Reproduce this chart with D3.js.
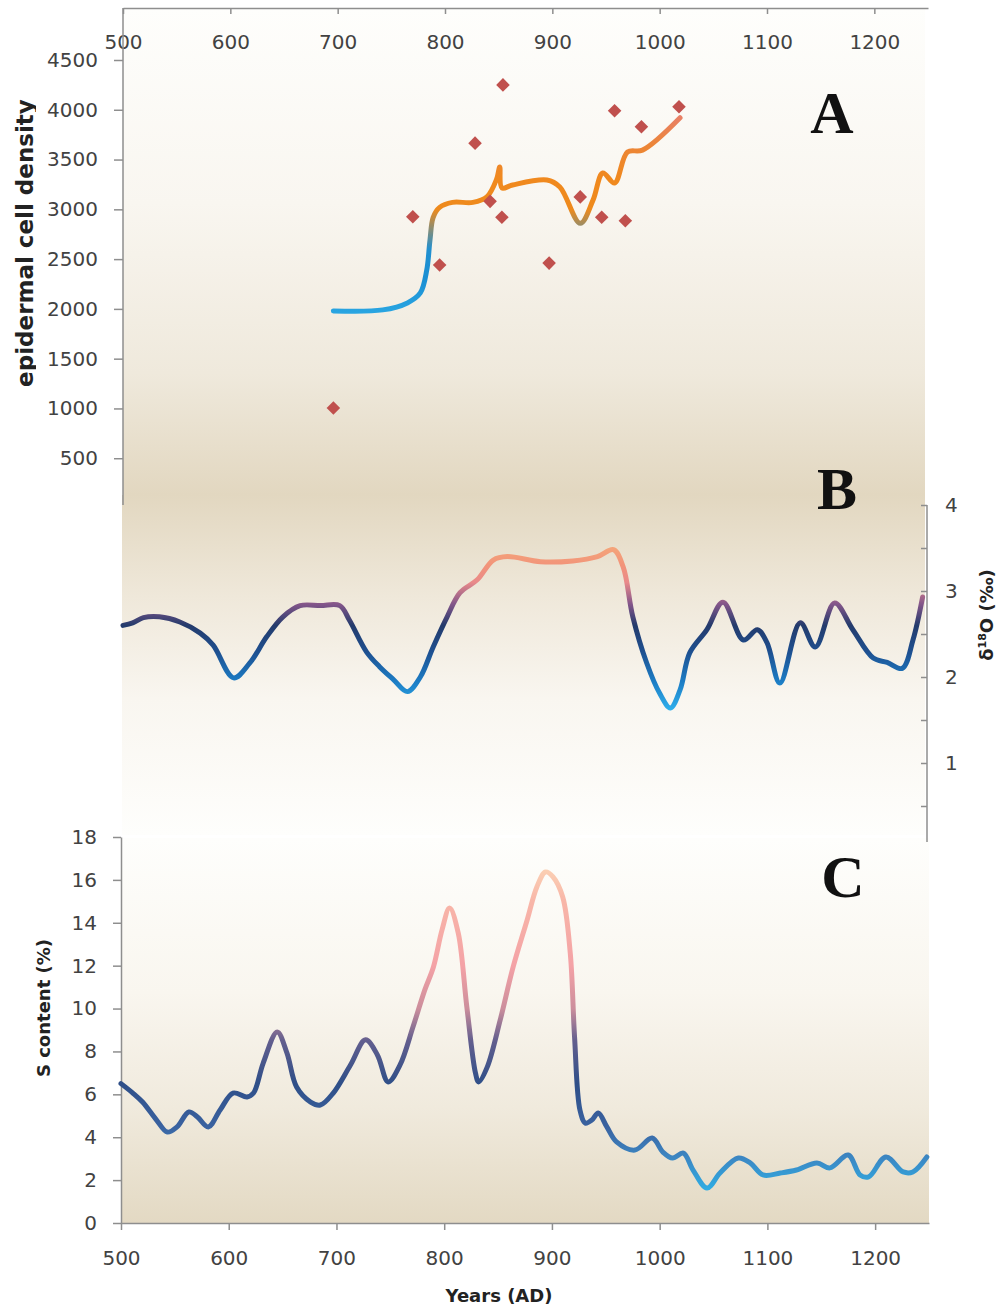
<!DOCTYPE html>
<html>
<head>
<meta charset="utf-8">
<script src="https://cdn.jsdelivr.net/npm/d3@7"></script>
<style>
  html, body { margin: 0; padding: 0; background: #fff; }
  svg { display: block; }
  .axis .tick text { font-family: "DejaVu Sans", sans-serif; font-size: 20px; fill: #424242; }
  .axis line, .axis path { stroke: #8e8e8e; stroke-width: 1.5px; }
  .axis-title { font-family: "DejaVu Sans", sans-serif; font-weight: bold; fill: #222; }
  .panel-letter { font-family: "Liberation Serif", "Times New Roman", serif; font-weight: bold; font-size: 60px; fill: #111; }
</style>
</head>
<body>
<svg id="chart" width="997" height="1308"></svg>
<script>
// ============================================
// Data
// ============================================

const yearTicks = [500, 600, 700, 800, 900, 1000, 1100, 1200];
const densityTicks = [500, 1000, 1500, 2000, 2500, 3000, 3500, 4000, 4500];
const o18Ticks = [0.5, 1, 1.5, 2, 2.5, 3, 3.5, 4];
const sulfurTicks = [0, 2, 4, 6, 8, 10, 12, 14, 16, 18];

// Panel A: epidermal cell density samples (diamonds)
const densityYears = [696, 770, 795, 828, 842, 853, 854, 897, 926, 946, 958, 968, 983, 1018];
const densityValues = [1005, 2925, 2440, 3665, 3080, 2920, 4250, 2460, 3125, 2920, 3990, 2885, 3830, 4030];

// Panel A: smoothed fit through the density samples
const fitYears = [696, 742, 765, 777, 783, 786, 789, 795, 807, 826, 839, 848, 851, 853, 863, 895, 907, 926, 938, 947, 958, 970, 984, 1019];
const fitValues = [1980, 1990, 2060, 2160, 2390, 2690, 2920, 3020, 3070, 3070, 3125, 3300, 3425, 3215, 3245, 3295, 3225, 2860, 3095, 3365, 3265, 3575, 3595, 3920];

// Panel B: d18O (permil)
const o18Years = [500, 509, 519, 534, 553, 572, 584, 603, 618, 634, 649, 665, 684, 702, 711, 727, 739, 752, 765, 777, 789, 802, 814, 830, 845, 858, 889, 919, 942, 957, 966, 975, 988, 1000, 1010, 1019, 1028, 1044, 1059, 1078, 1091, 1100, 1112, 1131, 1145, 1163, 1180, 1199, 1212, 1226, 1236, 1245];
const o18Values = [2.60, 2.63, 2.69, 2.70, 2.64, 2.51, 2.37, 1.99, 2.16, 2.47, 2.70, 2.83, 2.83, 2.83, 2.66, 2.29, 2.12, 1.97, 1.83, 2.00, 2.35, 2.70, 2.98, 3.13, 3.36, 3.40, 3.34, 3.35, 3.40, 3.48, 3.28, 2.70, 2.16, 1.81, 1.64, 1.85, 2.28, 2.55, 2.87, 2.43, 2.55, 2.40, 1.93, 2.63, 2.35, 2.86, 2.55, 2.22, 2.17, 2.10, 2.43, 2.93];

// Panel C: S content (%)
const sulfurYears = [500, 511, 520, 533, 543, 552, 563, 571, 581, 592, 604, 617, 623, 632, 645, 654, 663, 676, 685, 697, 713, 727, 738, 748, 759, 771, 782, 790, 798, 805, 813, 821, 829, 832, 840, 852, 864, 877, 886, 894, 901, 910, 917, 921, 926, 931, 937, 943, 951, 960, 977, 993, 1003, 1012, 1022, 1031, 1044, 1056, 1073, 1084, 1096, 1112, 1127, 1146, 1158, 1175, 1186, 1194, 1210, 1226, 1235, 1248];
const sulfurValues = [6.5, 6.06, 5.64, 4.80, 4.24, 4.48, 5.18, 4.94, 4.48, 5.27, 6.06, 5.88, 6.06, 7.46, 8.91, 7.93, 6.34, 5.64, 5.50, 6.06, 7.37, 8.54, 7.84, 6.58, 7.37, 9.14, 10.87, 11.94, 13.67, 14.69, 13.53, 10.08, 7.00, 6.58, 7.28, 9.47, 11.94, 14.13, 15.67, 16.37, 16.14, 15.20, 12.59, 8.68, 5.27, 4.66, 4.80, 5.13, 4.48, 3.78, 3.40, 3.96, 3.31, 3.03, 3.26, 2.47, 1.63, 2.33, 3.03, 2.80, 2.24, 2.33, 2.47, 2.80, 2.57, 3.17, 2.24, 2.15, 3.08, 2.38, 2.38, 3.08];

// ============================================
// Colour stops for the value-coloured lines
// ============================================

const fitStops = [[3950, '#e8806a'], [3650, '#ec8538'], [3300, '#f0891e'], [3000, '#ee8a1c'], [2600, '#2190d0'], [2300, '#1a8fd3'], [1950, '#2aa6e2']];
const o18Stops = [[3.5, '#f4a47a'], [3.3, '#f2947a'], [3.1, '#e98a8a'], [2.85, '#84568a'], [2.6, '#243b6c'], [2.3, '#1e4f8f'], [1.95, '#1c7cc4'], [1.6, '#30b2ee']];
const sulfurStops = [[16.5, '#fbd0b4'], [15, '#f8b6a8'], [12, '#f4a2a6'], [10, '#cc8e9c'], [8.5, '#625e8e'], [6.5, '#2f4f88'], [4.5, '#3a62a0'], [3, '#3c88c4'], [1.5, '#2eaee4']];

const tan = '#e2d7c0';
const paper = '#fefefc';
const fmt = d3.format('d');

// ============================================
// Scales
// ============================================

const svg = d3.select('#chart');
const defs = svg.append('defs');

const xTop = d3.scaleLinear().domain([500, 1250]).range([123, 928]);
const xBottom = d3.scaleLinear().domain([500, 1250]).range([121, 929]);
const yA = d3.scaleLinear().domain([0, 4500]).range([508, 60]);
const yB = d3.scaleLinear().domain([0, 4]).range([849, 505]);
const yC = d3.scaleLinear().domain([0, 18]).range([1223, 837]);

// ============================================
// Helpers
// ============================================

function bgGradient(id, stops) {
  const g = defs.append('linearGradient')
    .attr('id', id)
    .attr('x1', 0).attr('x2', 0).attr('y1', 0).attr('y2', 1);
  stops.forEach(s => g.append('stop').attr('offset', s[0]).attr('stop-color', s[1]));
}

// vertical gradient in user space so colour follows the data value
function valueGradient(id, yScale, stops) {
  const top = yScale(stops[0][0]);
  const bottom = yScale(stops[stops.length - 1][0]);
  const g = defs.append('linearGradient')
    .attr('id', id)
    .attr('gradientUnits', 'userSpaceOnUse')
    .attr('x1', 0).attr('x2', 0)
    .attr('y1', top).attr('y2', bottom);
  stops.forEach(s => {
    g.append('stop')
      .attr('offset', (yScale(s[0]) - top) / (bottom - top))
      .attr('stop-color', s[1]);
  });
}

function drawLine(years, values, x, y, gradId) {
  const pts = years.map((yr, i) => [yr, values[i]]);
  const line = d3.line()
    .x(d => x(d[0]))
    .y(d => y(d[1]))
    .curve(d3.curveCatmullRom.alpha(0.5));
  svg.append('path')
    .datum(pts)
    .attr('d', line)
    .attr('fill', 'none')
    .attr('stroke', `url(#${gradId})`)
    .attr('stroke-width', 5)
    .attr('stroke-linecap', 'round')
    .attr('stroke-linejoin', 'round');
}

// ============================================
// Panel backgrounds
// ============================================

bgGradient('bgA', [[0, paper], [0.4, '#f9f6f0'], [0.75, '#efe9dc'], [1, tan]]);
bgGradient('bgB', [[0, tan], [0.3, '#efe8da'], [0.6, '#f9f6f0'], [1, paper]]);
bgGradient('bgC', [[0, paper], [0.4, '#f9f6ef'], [0.7, '#f0eadd'], [1, '#e3d9c3']]);

svg.append('rect').attr('x', xTop(500)).attr('y', 8)
  .attr('width', xTop(1250) - xTop(500) - 3).attr('height', 487).attr('fill', 'url(#bgA)');
svg.append('rect').attr('x', xTop(500) - 1).attr('y', 495)
  .attr('width', xTop(1250) - xTop(500) - 2).attr('height', 340).attr('fill', 'url(#bgB)');
svg.append('rect').attr('x', xBottom(500)).attr('y', 838)
  .attr('width', xBottom(1250) - xBottom(500)).attr('height', yC(0) - 838).attr('fill', 'url(#bgC)');

// ============================================
// Panel A: epidermal cell density
// ============================================

svg.append('g').attr('class', 'axis')
  .attr('transform', 'translate(0,8)')
  .call(d3.axisBottom(xTop).tickValues(yearTicks).tickSize(6).tickSizeOuter(0).tickPadding(21).tickFormat(fmt));

const axisA = svg.append('g').attr('class', 'axis')
  .attr('transform', `translate(${xTop(500)},0)`)
  .call(d3.axisLeft(yA).tickValues(densityTicks).tickSize(9).tickSizeOuter(0).tickPadding(16).tickFormat(fmt));
axisA.select('.domain').remove();
axisA.append('line').attr('x1', 0).attr('x2', 0).attr('y1', 8).attr('y2', 505);

valueGradient('gradA', yA, fitStops);
drawLine(fitYears, fitValues, xTop, yA, 'gradA');

svg.append('g')
  .selectAll('path')
  .data(densityYears.map((yr, i) => [yr, densityValues[i]]))
  .join('path')
  .attr('d', d3.symbol(d3.symbolSquare, 92))
  .attr('transform', d => `translate(${xTop(d[0])},${yA(d[1])}) rotate(45)`)
  .attr('fill', '#c0504d');

// the label box in the source cuts off the descenders
defs.append('clipPath').attr('id', 'clipLabelA')
  .append('rect').attr('x', 0).attr('y', 0).attr('width', 36).attr('height', 520);

svg.append('g')
  .attr('clip-path', 'url(#clipLabelA)')
  .append('text')
  .attr('class', 'axis-title')
  .attr('transform', 'translate(33,243) rotate(-90)')
  .attr('text-anchor', 'middle')
  .style('font-size', '23px')
  .text('epidermal cell density');

svg.append('text').attr('class', 'panel-letter')
  .attr('x', 832).attr('y', 133).attr('text-anchor', 'middle').text('A');

// ============================================
// Panel B: d18O
// ============================================

const axisB = svg.append('g').attr('class', 'axis')
  .attr('transform', `translate(${xTop(1250) - 1},0)`)
  .call(d3.axisRight(yB).tickValues(o18Ticks).tickSize(-6).tickSizeOuter(0).tickPadding(18)
    .tickFormat(d => Number.isInteger(d) ? d : ''));
axisB.select('.domain').remove();
axisB.append('line').attr('x1', 0).attr('x2', 0).attr('y1', 505).attr('y2', 842);

valueGradient('gradB', yB, o18Stops);
drawLine(o18Years, o18Values, xTop, yB, 'gradB');

const o18Label = svg.append('text')
  .attr('class', 'axis-title')
  .attr('transform', 'translate(993,615) rotate(-90)')
  .attr('text-anchor', 'middle')
  .style('font-size', '18px');
o18Label.append('tspan').text('δ');
o18Label.append('tspan').attr('dy', -7).style('font-size', '11px').text('18');
o18Label.append('tspan').attr('dy', 7).text('O (‰)');

svg.append('text').attr('class', 'panel-letter')
  .attr('x', 837).attr('y', 509).attr('text-anchor', 'middle').text('B');

// ============================================
// Panel C: S content
// ============================================

svg.append('g').attr('class', 'axis')
  .attr('transform', `translate(${xBottom(500)},0)`)
  .call(d3.axisLeft(yC).tickValues(sulfurTicks).tickSize(8).tickSizeOuter(0).tickPadding(16).tickFormat(fmt));

svg.append('g').attr('class', 'axis')
  .attr('transform', `translate(0,${yC(0)})`)
  .call(d3.axisBottom(xBottom).tickValues(yearTicks).tickSize(7).tickSizeOuter(0).tickPadding(21).tickFormat(fmt));

valueGradient('gradC', yC, sulfurStops);
drawLine(sulfurYears, sulfurValues, xBottom, yC, 'gradC');

svg.append('text')
  .attr('class', 'axis-title')
  .attr('transform', 'translate(50,1008) rotate(-90)')
  .attr('text-anchor', 'middle')
  .style('font-size', '18px')
  .text('S content (%)');

svg.append('text')
  .attr('class', 'axis-title')
  .attr('x', 499).attr('y', 1302)
  .attr('text-anchor', 'middle')
  .style('font-size', '18px')
  .text('Years (AD)');

svg.append('text').attr('class', 'panel-letter')
  .attr('x', 843).attr('y', 897).attr('text-anchor', 'middle').text('C');
</script>
</body>
</html>
